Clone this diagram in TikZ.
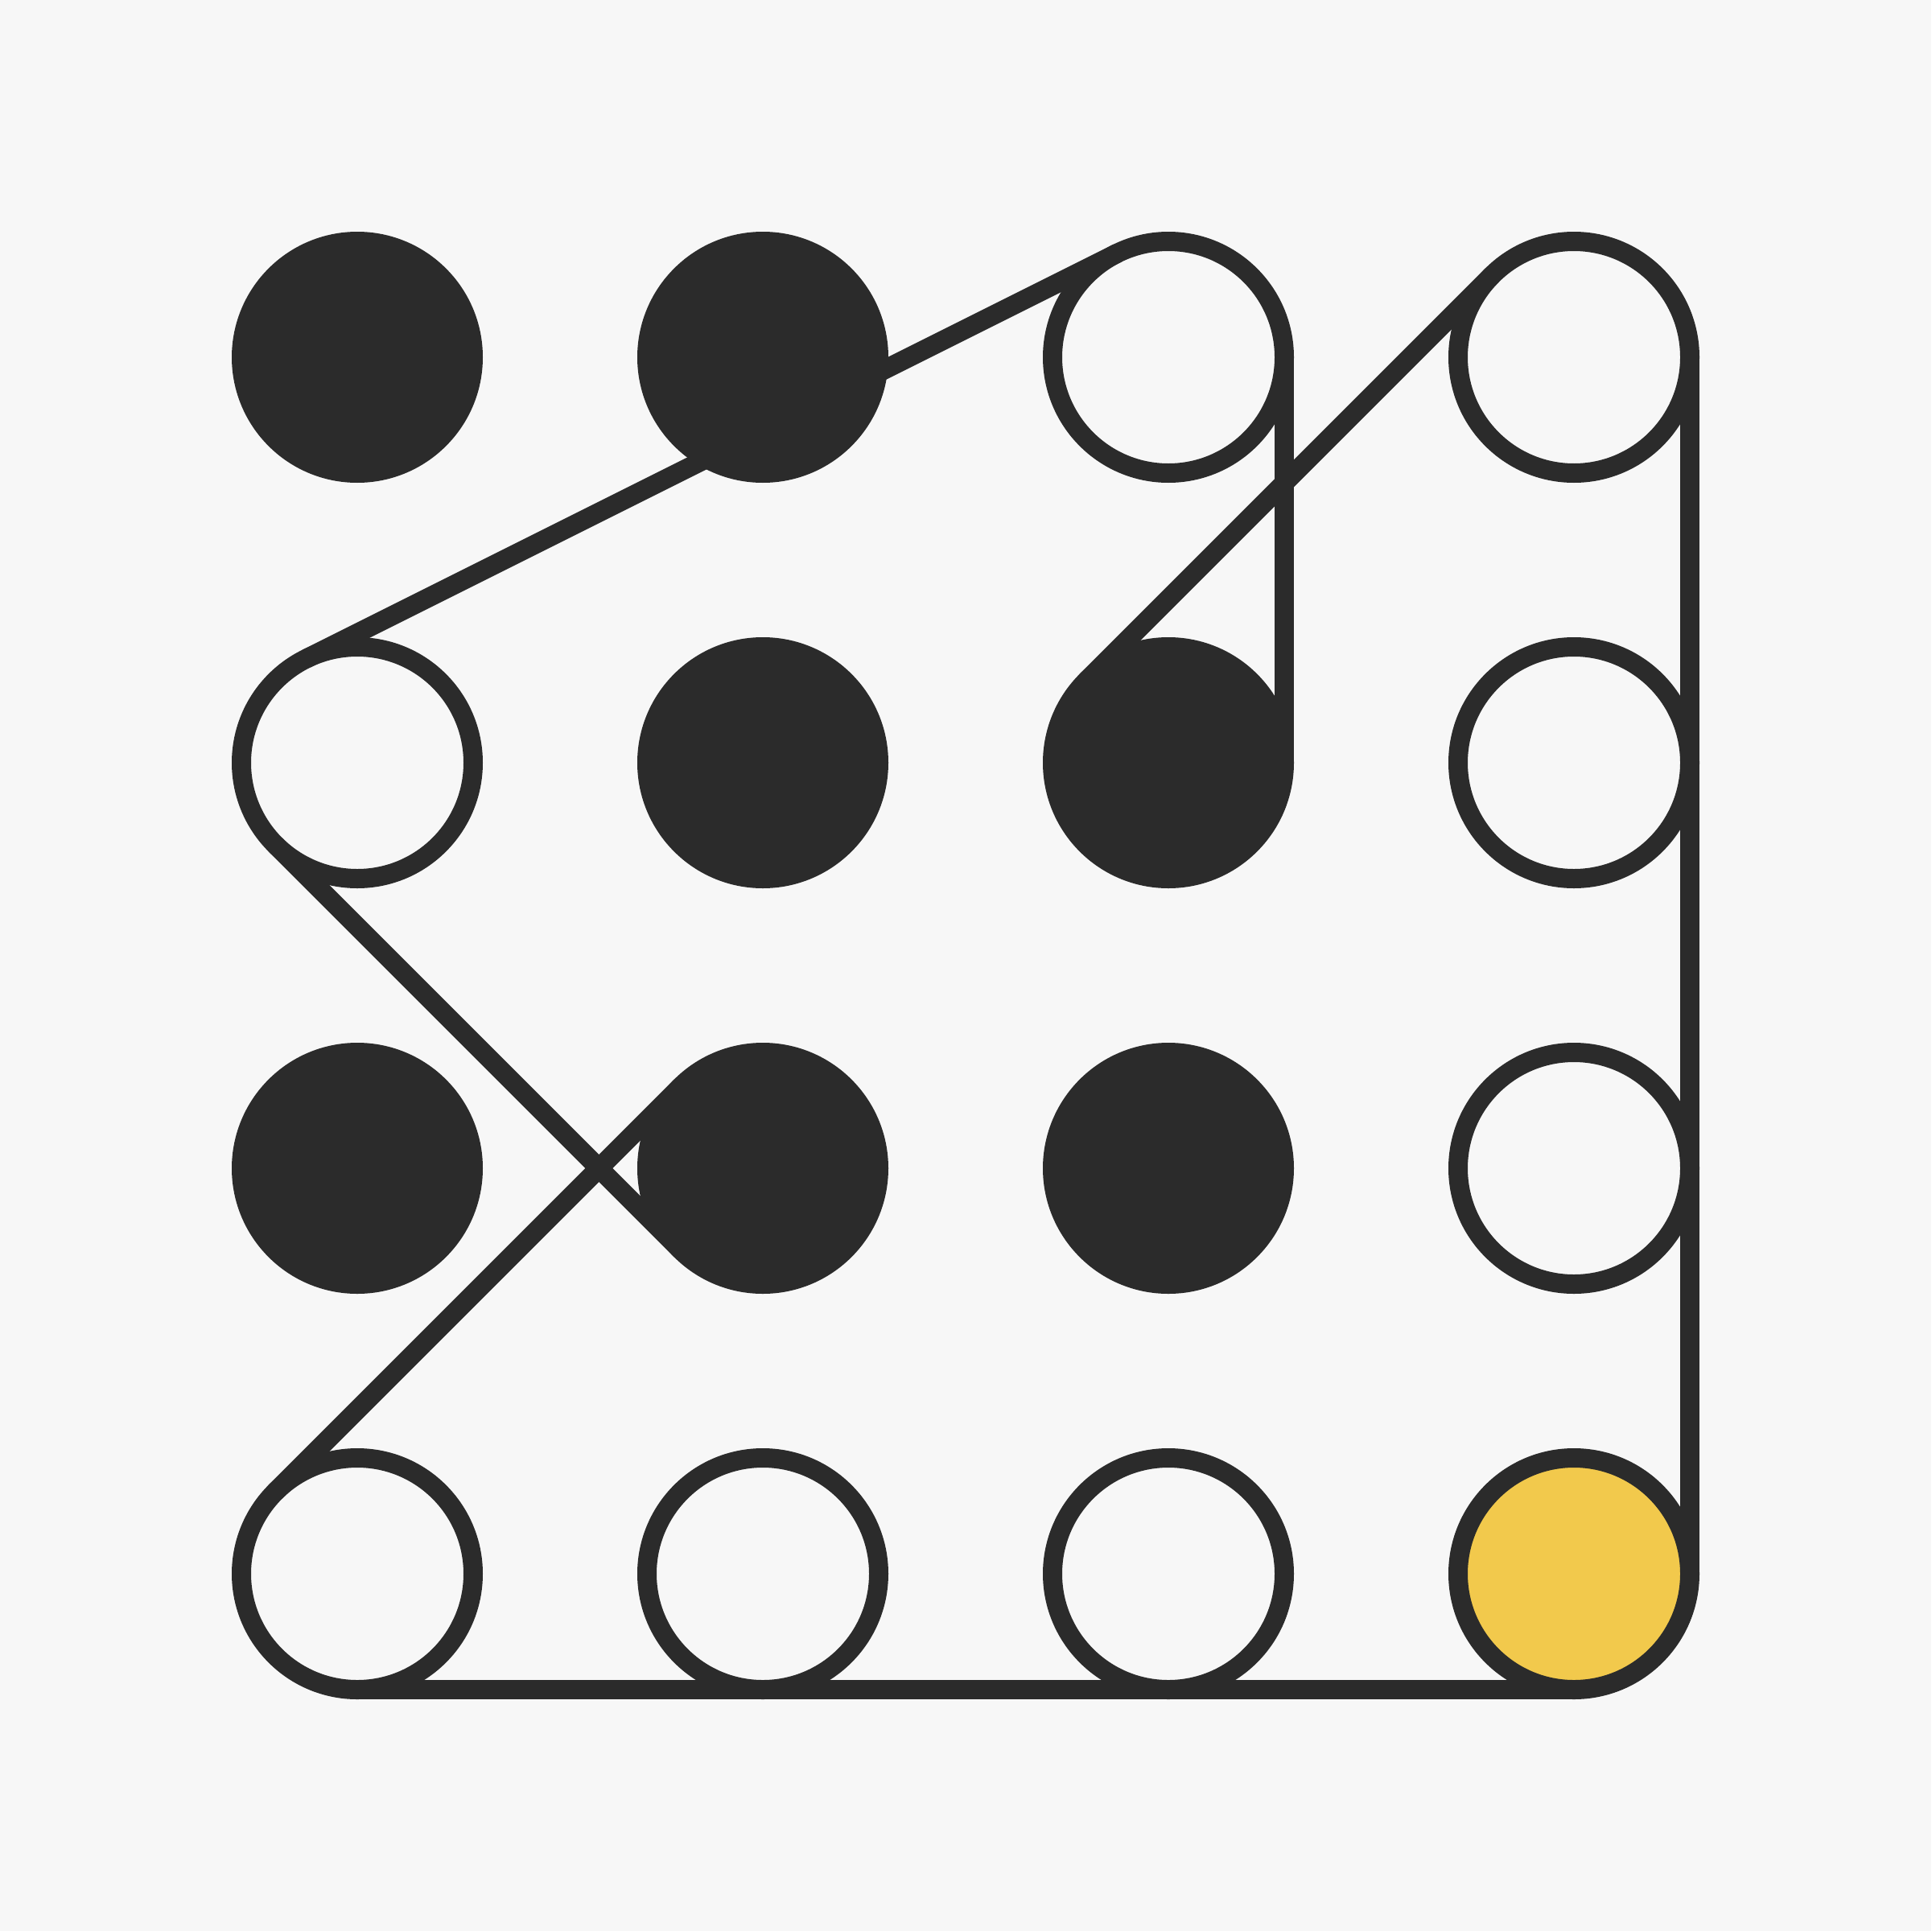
\documentclass[tikz,border=0pt]{standalone}
\definecolor{ink}{HTML}{2B2B2B}
\definecolor{paper}{HTML}{F7F7F7}
\definecolor{gold}{HTML}{F2C94C}
\tikzset{dot/.style={circle, draw=ink, minimum size=2.88cm, inner sep=0pt, outer sep=0pt}}

\begin{document}
\begin{tikzpicture}[x=0.24cm, y=-0.24cm, line width=0.24cm]
 \fill[paper] (0,0) rectangle (100,100);
 % grid of dots
 \foreach \r/\c/\col in {1/1/ink,1/2/ink,1/3/paper,1/4/paper,
                         2/1/paper,2/2/ink,2/3/ink,2/4/paper,
                         3/1/ink,3/2/ink,3/3/ink,3/4/paper,
                         4/1/paper,4/2/paper,4/3/paper,4/4/gold}
   \node[dot, fill=\col] (d\r\c) at ({18.5+21*(\c-1)},{18.5+21*(\r-1)}) {};
 % the path round the dots
 \draw[ink] (d41.south) -- (d44.south);
 \draw[ink] (d14.east) -- (d44.east);
 \draw[ink] (d13.east) -- (d23.east);
 \draw[ink] (d23.north west) -- (d14.north west);
 \draw[ink] (d21.116.57) -- (d13.116.57);
 \draw[ink] (d21.south west) -- (d32.south west);
 \draw[ink] (d41.north west) -- (d32.north west);
\end{tikzpicture}
\end{document}
